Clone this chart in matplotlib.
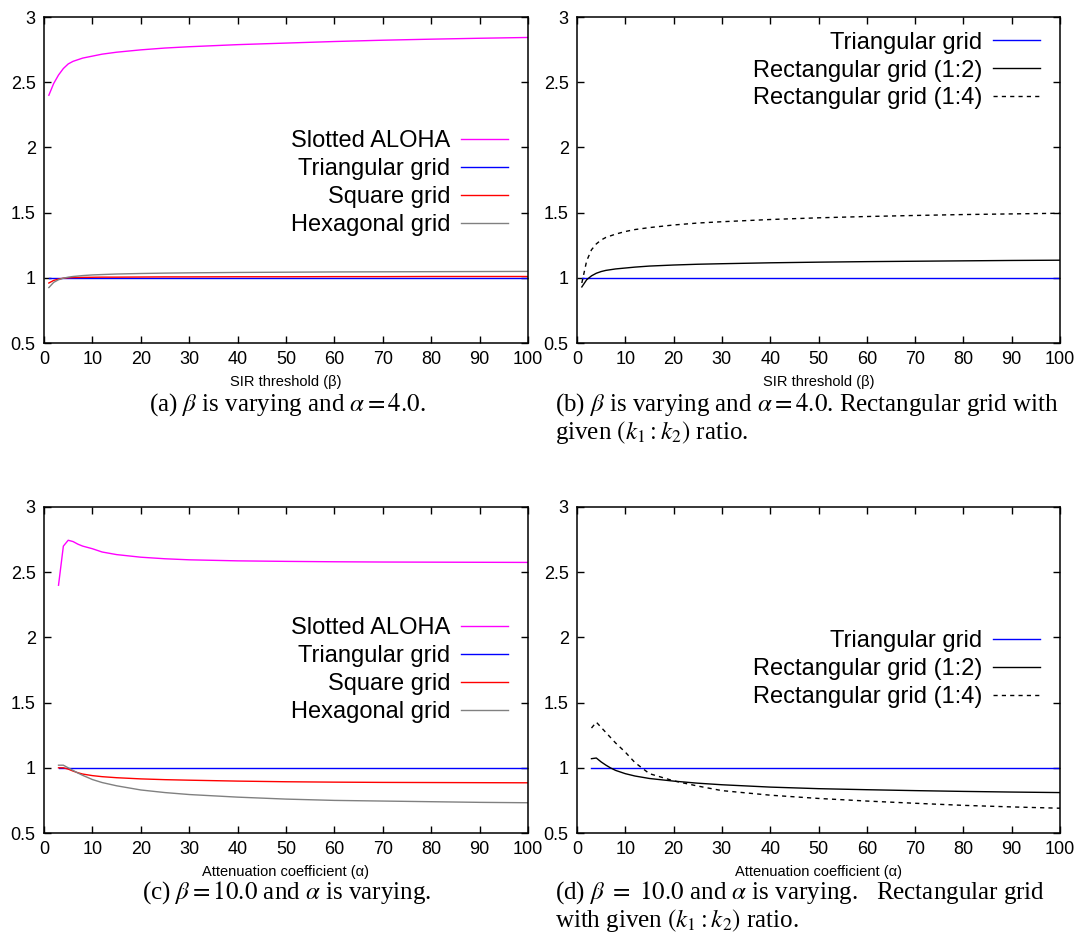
import numpy as np
import matplotlib
matplotlib.use('Agg')
import matplotlib.pyplot as plt
from matplotlib.ticker import FormatStrFormatter

'''Four panels: slotted ALOHA vs grid schedules, varying SIR threshold / attenuation'''

plt.rcParams['font.family'] = ['Liberation Sans', 'DejaVu Sans']
plt.rcParams['mathtext.fontset'] = 'stix'

# --- data ---
# (a)/(b): SIR threshold beta varying, alpha = 4
beta = [1, 2, 3, 4, 5, 6, 8, 10, 12, 15, 20, 25, 30, 40, 50, 60, 70, 80, 90, 100]
a_aloha = [2.40, 2.49, 2.555, 2.605, 2.64, 2.66, 2.685, 2.70, 2.715, 2.73, 2.748, 2.762,
           2.772, 2.788, 2.80, 2.812, 2.822, 2.83, 2.837, 2.843]
a_tri = [1.0] * 20
a_square = [0.96, 0.98, 0.99, 0.997, 1.0, 1.002, 1.003, 1.004, 1.005, 1.005, 1.006, 1.007,
            1.007, 1.008, 1.008, 1.009, 1.009, 1.01, 1.01, 1.01]
a_hex = [0.925, 0.965, 0.985, 0.997, 1.005, 1.01, 1.017, 1.022, 1.025, 1.029, 1.033, 1.036,
         1.038, 1.041, 1.043, 1.045, 1.046, 1.047, 1.048, 1.049]
b_tri = [1.0] * 20
b_rect12 = [0.93, 0.985, 1.015, 1.035, 1.048, 1.057, 1.068, 1.075, 1.082, 1.09, 1.098, 1.104,
            1.108, 1.115, 1.12, 1.124, 1.127, 1.13, 1.133, 1.135]
b_rect14 = [0.96, 1.13, 1.215, 1.26, 1.29, 1.31, 1.335, 1.355, 1.37, 1.385, 1.405, 1.42,
            1.43, 1.447, 1.46, 1.47, 1.478, 1.485, 1.49, 1.495]

# (c)/(d): beta = 10, attenuation coefficient alpha varying
alpha = [3, 4, 5, 6, 7, 8, 10, 12, 15, 20, 25, 30, 40, 50, 60, 70, 80, 90, 100]
c_aloha = [2.40, 2.70, 2.745, 2.735, 2.715, 2.70, 2.68, 2.655, 2.635, 2.615, 2.603, 2.595,
           2.587, 2.583, 2.58, 2.578, 2.577, 2.576, 2.575]
c_tri = [1.0] * 19
c_square = [1.0, 1.0, 0.99, 0.975, 0.962, 0.952, 0.94, 0.932, 0.924, 0.915, 0.909, 0.905,
            0.898, 0.893, 0.89, 0.888, 0.887, 0.886, 0.885]
c_hex = [1.02, 1.02, 1.0, 0.98, 0.96, 0.942, 0.91, 0.887, 0.862, 0.83, 0.81, 0.795,
         0.775, 0.76, 0.75, 0.745, 0.74, 0.735, 0.732]
d_tri = [1.0] * 19
d_rect12 = [1.07, 1.075, 1.045, 1.02, 0.998, 0.98, 0.955, 0.937, 0.918, 0.898, 0.882, 0.87,
            0.852, 0.84, 0.832, 0.825, 0.819, 0.814, 0.81]
d_rect14 = [1.305, 1.35, 1.31, 1.27, 1.23, 1.19, 1.12, 1.04, 0.955, 0.90, 0.86, 0.825,
            0.79, 0.765, 0.745, 0.728, 0.712, 0.70, 0.69]

xticks = list(range(0, 101, 10))
yticks = [0.5, 1, 1.5, 2, 2.5, 3]

fig = plt.figure(figsize=(10.91, 9.48), dpi=100)
W, H = 1091., 948.


def make_ax(x0, x1, ytop, ybot):
    ax = fig.add_axes([x0 / W, 1 - ybot / H, (x1 - x0) / W, (ybot - ytop) / H])
    ax.set_xlim(0, 100)
    ax.set_ylim(0.5, 3)
    ax.set_xticks(xticks)
    ax.set_yticks(yticks)
    ax.yaxis.set_major_formatter(FormatStrFormatter('%g'))
    ax.tick_params(direction='in', length=5, width=1, top=True, right=True,
                   labelsize=13, pad=6)
    for s in ax.spines.values():
        s.set_linewidth(1.1)
    return ax


def add_legend(ax, x, y):
    ax.legend(loc='upper right', bbox_to_anchor=(x, y), frameon=False, markerfirst=False,
              fontsize=17, handlelength=2.0, handletextpad=0.45, labelspacing=0.25,
              borderpad=0, borderaxespad=0)


lw = 1.0
# (a)
ax = make_ax(44, 528, 17, 343)
ax.plot(beta, a_aloha, color='#ff00ff', lw=lw, label='Slotted ALOHA')
ax.plot(beta, a_tri, color='#0000ff', lw=lw, label='Triangular grid')
ax.plot(beta, a_square, color='#ff0000', lw=lw, label='Square grid')
ax.plot(beta, a_hex, color='#808080', lw=lw, label='Hexagonal grid')
ax.set_xlabel('SIR threshold (β)', fontsize=10.5, labelpad=5)
add_legend(ax, 0.959, 0.652)

# (b)
ax = make_ax(577, 1060, 17, 343)
ax.plot(beta, b_tri, color='#0000ff', lw=lw, label='Triangular grid')
ax.plot(beta, b_rect12, color='black', lw=lw, label='Rectangular grid (1:2)')
ax.plot(beta, b_rect14, color='black', lw=lw, ls=(0, (3, 3)), label='Rectangular grid (1:4)')
ax.set_xlabel('SIR threshold (β)', fontsize=10.5, labelpad=5)
add_legend(ax, 0.959, 0.955)

# (c)
ax = make_ax(44, 528, 507, 833)
ax.plot(alpha, c_aloha, color='#ff00ff', lw=lw, label='Slotted ALOHA')
ax.plot(alpha, c_tri, color='#0000ff', lw=lw, label='Triangular grid')
ax.plot(alpha, c_square, color='#ff0000', lw=lw, label='Square grid')
ax.plot(alpha, c_hex, color='#808080', lw=lw, label='Hexagonal grid')
ax.set_xlabel('Attenuation coefficient (α)', fontsize=10.5, labelpad=5)
add_legend(ax, 0.959, 0.662)

# (d)
ax = make_ax(577, 1060, 507, 833)
ax.plot(alpha, d_tri, color='#0000ff', lw=lw, label='Triangular grid')
ax.plot(alpha, d_rect12, color='black', lw=lw, label='Rectangular grid (1:2)')
ax.plot(alpha, d_rect14, color='black', lw=lw, ls=(0, (3, 3)), label='Rectangular grid (1:4)')
ax.set_xlabel('Attenuation coefficient (α)', fontsize=10.5, labelpad=5)
add_legend(ax, 0.959, 0.622)

# captions
cap = dict(fontsize=18, family=['Liberation Serif', 'DejaVu Serif'], va='center')
fig.text(287 / W, 1 - 405 / H, r'(a) $\beta$ is varying and $\alpha = 4.0$.', ha='center', **cap)
fig.text(555 / W, 1 - 405 / H, r'(b) $\beta$ is varying and $\alpha = 4.0$. Rectangular grid with',
         ha='left', **cap)
fig.text(555 / W, 1 - 432 / H, r'given $(k_1 : k_2)$ ratio.', ha='left', **cap)
fig.text(287 / W, 1 - 893 / H, r'(c) $\beta = 10.0$ and $\alpha$ is varying.', ha='center', **cap)
fig.text(555 / W, 1 - 893 / H, r'(d) $\beta\ =\ 10.0$ and $\alpha$ is varying.   Rectangular grid',
         ha='left', **cap)
fig.text(555 / W, 1 - 920 / H, r'with given $(k_1 : k_2)$ ratio.', ha='left', **cap)

fig.savefig('out.png', dpi=100)
print('done')
